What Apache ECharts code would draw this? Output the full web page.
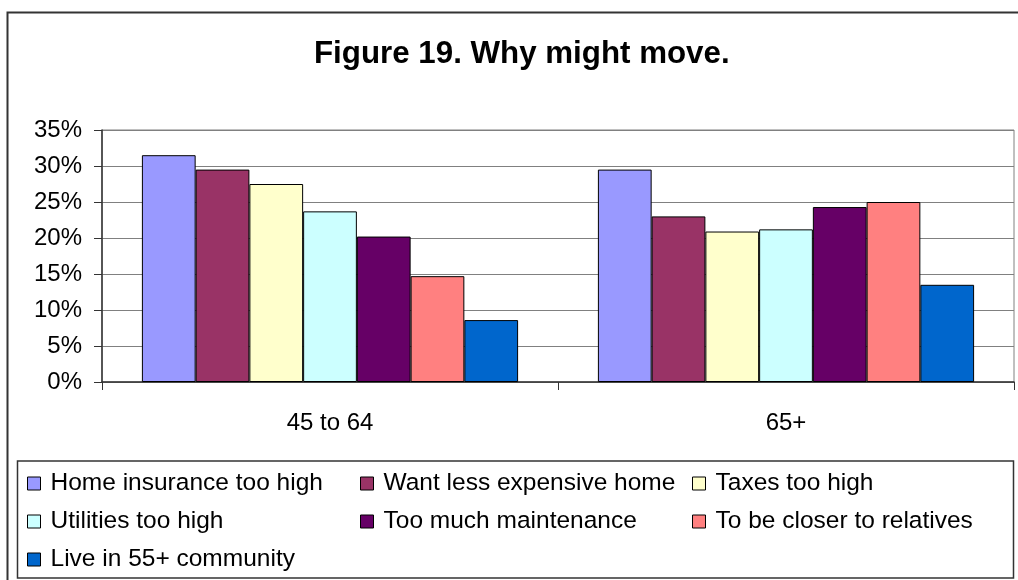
<!DOCTYPE html>
<html>
<head>
<meta charset="utf-8">
<script src="https://cdn.jsdelivr.net/npm/echarts@6/dist/echarts.min.js"></script>
<style>
  html, body { margin: 0; padding: 0; background: #ffffff; }
  #chart { width: 1018px; height: 580px; }
</style>
</head>
<body>
<div id="chart"></div>
<script>
// Age groups on the category axis
const ageGroups = ['45 to 64', '65+'];

// Reasons for moving, share of respondents (%) per age group
const homeInsurance   = [31.5, 29.5];
const lessExpensive   = [29.5, 23.0];
const taxes           = [27.5, 20.9];
const utilities       = [23.7, 21.2];
const maintenance     = [20.2, 24.3];
const closerRelatives = [14.7, 25.0];
const community55     = [8.6, 13.5];

const seriesNames = [
  'Home insurance too high',
  'Want less expensive home',
  'Taxes too high',
  'Utilities too high',
  'Too much maintenance',
  'To be closer to relatives',
  'Live in 55+ community'
];
const seriesData = [homeInsurance, lessExpensive, taxes, utilities, maintenance, closerRelatives, community55];
const seriesColors = ['#9999FF', '#993366', '#FFFFCC', '#CCFFFF', '#660066', '#FF8080', '#0066CC'];

const FONT = 'Liberation Sans, Arial, sans-serif';

const chart = echarts.init(document.getElementById('chart'), null, { renderer: 'canvas' });

// Legend laid out as three aligned columns
const legendBase = {
  orient: 'vertical',
  top: 471,
  itemWidth: 13,
  itemHeight: 13,
  itemGap: 13,
  icon: 'rect',
  padding: 0,
  textStyle: { fontFamily: FONT, fontSize: 24.5, lineHeight: 25, color: '#000', padding: [0, 0, 0, 5] },
  itemStyle: { borderColor: '#000', borderWidth: 1 },
  selectedMode: false
};

chart.setOption({
  animation: false,
  backgroundColor: '#ffffff',
  title: {
    text: 'Figure 19. Why might move.',
    left: 309,
    top: 34,
    textStyle: { fontFamily: FONT, fontSize: 31.3, fontWeight: 'bold', color: '#000' }
  },
  legend: [
    Object.assign({}, legendBase, { left: 27, data: [seriesNames[0], seriesNames[3], seriesNames[6]] }),
    Object.assign({}, legendBase, { left: 360, data: [seriesNames[1], seriesNames[4]] }),
    Object.assign({}, legendBase, { left: 692, data: [seriesNames[2], seriesNames[5]] })
  ],
  grid: {
    left: 102, right: 4, top: 130, bottom: 198,
    show: true,
    borderColor: '#808080',
    borderWidth: 1,
    backgroundColor: '#ffffff'
  },
  xAxis: {
    type: 'category',
    data: ageGroups,
    axisLine: { lineStyle: { color: '#333', width: 1.5 } },
    axisTick: { show: true, length: 8, lineStyle: { color: '#333' } },
    axisLabel: { fontFamily: FONT, fontSize: 24, color: '#000', margin: 29 }
  },
  yAxis: {
    type: 'value',
    min: 0, max: 35, interval: 5,
    axisLine: { show: true, lineStyle: { color: '#333', width: 1.5 } },
    axisTick: { show: true, length: 8, lineStyle: { color: '#333' } },
    axisLabel: { fontFamily: FONT, fontSize: 24, color: '#000', margin: 20, formatter: '{value}%' },
    splitLine: { show: true, lineStyle: { color: '#808080', width: 1 } }
  },
  graphic: [
    {
      type: 'rect',
      shape: { x: 7.5, y: 12.5, width: 1030, height: 580 },
      style: { fill: null, stroke: '#333', lineWidth: 2 },
      silent: true, z: -1
    },
    {
      type: 'rect',
      shape: { x: 17.5, y: 461, width: 996, height: 117 },
      style: { fill: null, stroke: '#333', lineWidth: 1.5 },
      silent: true
    }
  ],
  series: seriesNames.map((name, i) => ({
    name: name,
    type: 'bar',
    data: seriesData[i],
    barGap: '0%',
    barCategoryGap: '17.5%',
    itemStyle: { color: seriesColors[i], borderColor: '#000', borderWidth: 1 }
  }))
});
</script>
</body>
</html>
